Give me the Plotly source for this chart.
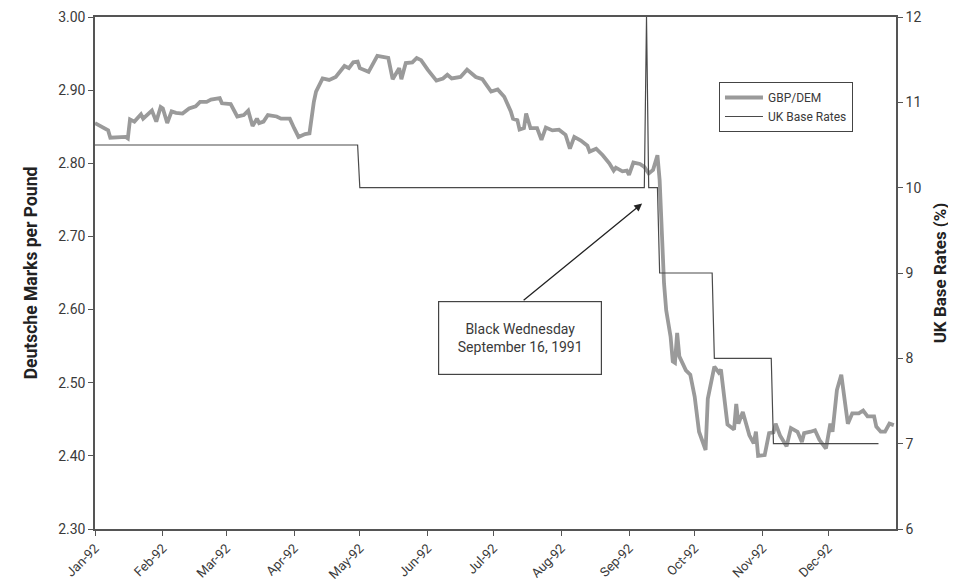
import plotly.graph_objects as go

# GBP/DEM exchange rate (Deutsche Marks per Pound), 1992
gbp_dates = [
    "1992-01-01", "1992-01-05", "1992-01-07", "1992-01-08", "1992-01-11", "1992-01-15", "1992-01-16",
    "1992-01-17", "1992-01-19", "1992-01-22", "1992-01-23", "1992-01-25", "1992-01-27", "1992-01-29",
    "1992-01-31", "1992-02-01", "1992-02-03", "1992-02-05", "1992-02-07", "1992-02-10", "1992-02-13",
    "1992-02-16", "1992-02-18", "1992-02-21", "1992-02-23", "1992-02-27", "1992-02-28", "1992-03-03",
    "1992-03-06", "1992-03-09", "1992-03-11", "1992-03-13", "1992-03-15", "1992-03-16", "1992-03-18",
    "1992-03-20", "1992-03-24", "1992-03-26", "1992-03-30", "1992-04-01", "1992-04-03", "1992-04-06",
    "1992-04-08", "1992-04-10", "1992-04-11", "1992-04-14", "1992-04-17", "1992-04-20", "1992-04-24",
    "1992-04-26", "1992-04-28", "1992-04-30", "1992-05-01", "1992-05-05", "1992-05-09", "1992-05-14",
    "1992-05-16", "1992-05-19", "1992-05-20", "1992-05-22", "1992-05-25", "1992-05-27", "1992-05-29",
    "1992-06-01", "1992-06-05", "1992-06-08", "1992-06-10", "1992-06-12", "1992-06-16", "1992-06-19",
    "1992-06-23", "1992-06-26", "1992-06-30", "1992-07-03", "1992-07-06", "1992-07-09", "1992-07-10",
    "1992-07-12", "1992-07-13", "1992-07-15", "1992-07-16", "1992-07-18", "1992-07-21", "1992-07-23",
    "1992-07-25", "1992-07-28", "1992-07-31", "1992-08-03", "1992-08-05", "1992-08-07", "1992-08-10",
    "1992-08-13", "1992-08-14", "1992-08-17", "1992-08-20", "1992-08-23", "1992-08-25", "1992-08-26",
    "1992-08-29", "1992-08-31", "1992-09-01", "1992-09-03", "1992-09-06", "1992-09-08", "1992-09-10",
    "1992-09-12", "1992-09-14", "1992-09-15", "1992-09-16", "1992-09-17", "1992-09-18", "1992-09-20",
    "1992-09-21", "1992-09-22", "1992-09-23", "1992-09-24", "1992-09-27", "1992-09-29", "1992-10-01",
    "1992-10-03", "1992-10-06", "1992-10-07", "1992-10-10", "1992-10-12", "1992-10-13", "1992-10-16",
    "1992-10-19", "1992-10-20", "1992-10-21", "1992-10-23", "1992-10-26", "1992-10-28", "1992-10-29",
    "1992-10-30", "1992-11-02", "1992-11-04", "1992-11-06", "1992-11-07", "1992-11-09", "1992-11-12",
    "1992-11-14", "1992-11-17", "1992-11-19", "1992-11-20", "1992-11-23", "1992-11-25", "1992-11-27",
    "1992-11-30", "1992-12-02", "1992-12-03", "1992-12-05", "1992-12-07", "1992-12-10", "1992-12-12",
    "1992-12-15", "1992-12-17", "1992-12-19", "1992-12-22", "1992-12-23", "1992-12-25", "1992-12-27",
    "1992-12-29", "1992-12-31",
]
gbp_values = [
    2.855, 2.849, 2.845, 2.835, 2.835, 2.836, 2.834,
    2.860, 2.857, 2.867, 2.861, 2.867, 2.872, 2.857,
    2.877, 2.875, 2.855, 2.871, 2.869, 2.868, 2.875,
    2.878, 2.884, 2.884, 2.887, 2.889, 2.882, 2.881,
    2.864, 2.866, 2.872, 2.851, 2.861, 2.855, 2.857,
    2.866, 2.864, 2.861, 2.861, 2.848, 2.836, 2.840,
    2.841, 2.884, 2.898, 2.916, 2.914, 2.918, 2.933,
    2.930, 2.938, 2.939, 2.930, 2.925, 2.947, 2.944,
    2.915, 2.930, 2.915, 2.937, 2.938, 2.944, 2.941,
    2.928, 2.913, 2.916, 2.921, 2.916, 2.918, 2.928,
    2.918, 2.915, 2.898, 2.901, 2.891, 2.871, 2.861,
    2.859, 2.846, 2.848, 2.868, 2.848, 2.848, 2.832,
    2.849, 2.845, 2.846, 2.839, 2.820, 2.836, 2.831,
    2.824, 2.816, 2.820, 2.811, 2.800, 2.790, 2.794,
    2.789, 2.790, 2.784, 2.801, 2.799, 2.795, 2.786,
    2.791, 2.811, 2.777, 2.704, 2.636, 2.599, 2.563,
    2.529, 2.527, 2.568, 2.536, 2.517, 2.511, 2.481,
    2.433, 2.408, 2.478, 2.522, 2.514, 2.518, 2.443,
    2.436, 2.471, 2.444, 2.460, 2.428, 2.417, 2.433,
    2.400, 2.401, 2.431, 2.432, 2.444, 2.428, 2.413,
    2.438, 2.433, 2.419, 2.431, 2.433, 2.435, 2.422,
    2.410, 2.444, 2.433, 2.490, 2.511, 2.444, 2.458,
    2.458, 2.462, 2.454, 2.454, 2.440, 2.433, 2.433,
    2.444, 2.442,
]

# UK base rates (%)
rate_dates = ["1992-01-01", "1992-04-30", "1992-05-01", "1992-09-08", "1992-09-09", "1992-09-10",
              "1992-09-14", "1992-09-15", "1992-10-09", "1992-10-10", "1992-11-05", "1992-11-06",
              "1992-12-24"]
rate_values = [10.5, 10.5, 10.0, 10.0, 12.0, 10.0, 10.0, 9.0, 9.0, 8.0, 8.0, 7.0, 7.0]

# Axis ticks
month_ticks = ["1992-01-01", "1992-02-01", "1992-03-01", "1992-04-01", "1992-05-01", "1992-06-01",
               "1992-07-01", "1992-08-01", "1992-09-01", "1992-10-01", "1992-11-01", "1992-12-01"]
month_labels = ["Jan-92", "Feb-92", "Mar-92", "Apr-92", "May-92", "Jun-92",
                "Jul-92", "Aug-92", "Sep-92", "Oct-92", "Nov-92", "Dec-92"]
left_ticks = [2.30, 2.40, 2.50, 2.60, 2.70, 2.80, 2.90, 3.00]
right_ticks = [6, 7, 8, 9, 10, 11, 12]

FONT = "Roboto, Liberation Sans, Arial, sans-serif"
AXIS_COLOR = "#555555"
TEXT_COLOR = "#3a3a3a"

fig = go.Figure()
fig.add_trace(go.Scatter(
    x=gbp_dates, y=gbp_values, name="GBP/DEM", mode="lines",
    line=dict(color="#9a9a9a", width=3.8), yaxis="y",
))
fig.add_trace(go.Scatter(
    x=rate_dates, y=rate_values, name="UK Base Rates", mode="lines",
    line=dict(color="#4a4a4a", width=1.2), yaxis="y2",
))

fig.update_layout(
    width=948, height=576,
    margin=dict(l=87, r=60, t=9, b=55, autoexpand=False),
    paper_bgcolor="white", plot_bgcolor="white",
    font=dict(family=FONT, size=14, color=TEXT_COLOR),
    showlegend=True,
    legend=dict(
        x=0.779, y=0.873, xanchor="left", yanchor="top",
        bgcolor="white", bordercolor="#444444", borderwidth=1,
        font=dict(family=FONT, size=12, color=TEXT_COLOR),
        tracegroupgap=0, itemwidth=38,
    ),
    xaxis=dict(
        type="date", range=["1992-01-01", "1993-01-01"],
        tickvals=month_ticks, ticktext=month_labels, tickangle=-45,
        ticks="outside", ticklen=5, tickcolor=AXIS_COLOR,
        showline=True, linecolor=AXIS_COLOR, linewidth=1.5, mirror=True,
        showgrid=False, zeroline=False, automargin=False,
        tickfont=dict(family=FONT, size=13, color=TEXT_COLOR),
    ),
    yaxis=dict(
        range=[2.30, 3.00], tickvals=left_ticks, tickformat=".2f",
        ticks="outside", ticklen=5, tickcolor=AXIS_COLOR,
        showline=True, linecolor=AXIS_COLOR, linewidth=1.5,
        showgrid=False, zeroline=False, automargin=False,
        title=dict(text="<b>Deutsche Marks per Pound</b>", standoff=16,
                   font=dict(family=FONT, size=17.5, color="#222222")),
        tickfont=dict(family=FONT, size=14, color=TEXT_COLOR),
    ),
    yaxis2=dict(
        range=[6, 12], tickvals=right_ticks, overlaying="y", side="right",
        ticks="outside", ticklen=5, tickcolor=AXIS_COLOR,
        showline=True, linecolor=AXIS_COLOR, linewidth=1.5,
        showgrid=False, zeroline=False, automargin=False,
        title=dict(text="<b>UK Base Rates (%)</b>", standoff=14,
                   font=dict(family=FONT, size=17, color="#222222")),
        tickfont=dict(family=FONT, size=14, color=TEXT_COLOR),
    ),
)

# Arrow pointing to Black Wednesday
fig.add_annotation(
    x="1992-09-07", y=2.745, xref="x", yref="y",
    ax=-120, ay=98, axref="pixel", ayref="pixel",
    text="", showarrow=True, arrowhead=2, arrowsize=1.2, arrowwidth=1.3,
    arrowcolor="#222222",
)
# Label box
fig.add_annotation(
    x="1992-07-13", y=2.561, xref="x", yref="y",
    text="Black Wednesday<br>September 16, 1991", showarrow=False,
    font=dict(family=FONT, size=14, color=TEXT_COLOR),
    bgcolor="white", bordercolor="#444444", borderwidth=1.2,
    width=152, height=62, borderpad=5, align="center", valign="middle",
)

fig.write_html("out.html")
